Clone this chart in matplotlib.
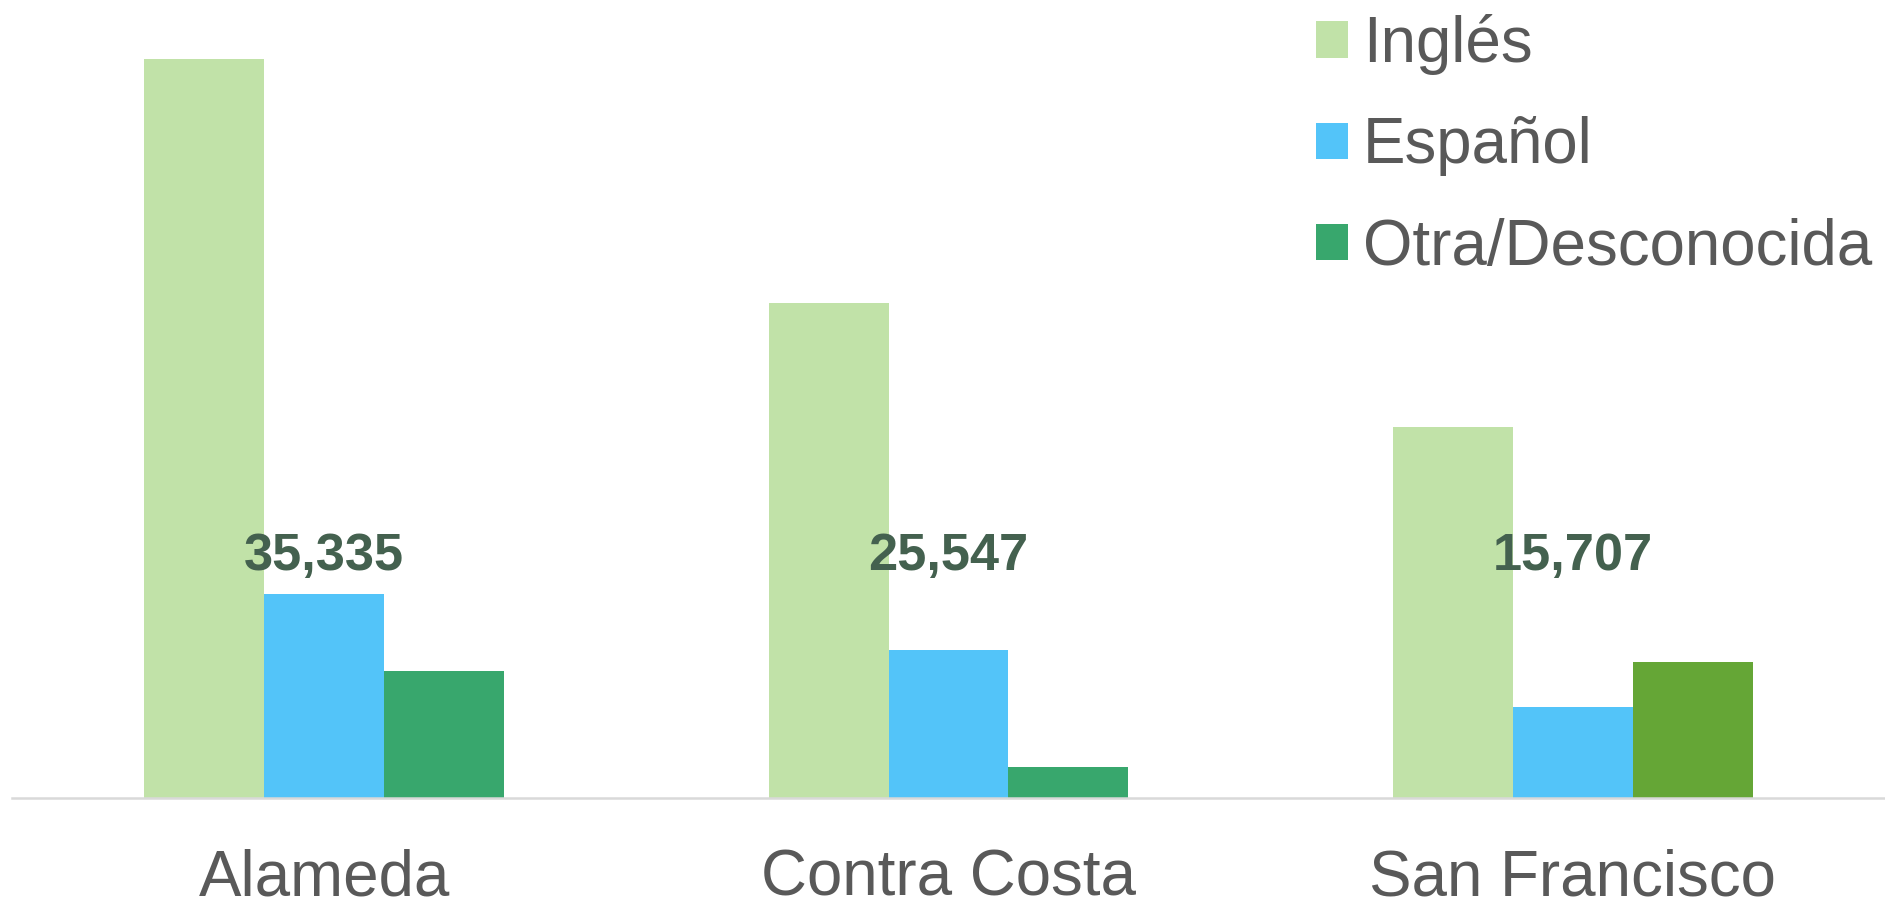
import matplotlib.pyplot as plt
import numpy as np

plt.rcParams['font.family'] = ['Liberation Sans', 'DejaVu Sans']

condados = ['Alameda', 'Contra Costa', 'San Francisco']
ingles = [128000, 85700, 64200]
espanol = [35335, 25547, 15707]
otra = [22000, 5400, 23500]
etiquetas = ['35,335', '25,547', '15,707']

c_ingles = '#C1E2A8'
c_espanol = '#53C4F9'
c_otra = ['#38A76D', '#38A76D', '#65A636']

fig = plt.figure(figsize=(18.85, 9.01), dpi=100)
ax = fig.add_axes([12 / 1885, 103 / 901, 1873 / 1885, 798 / 901])

x = np.arange(len(condados))
w = 0.192
ax.bar(x - w, ingles, w, color=c_ingles, label='Inglés')
ax.bar(x, espanol, w, color=c_espanol, label='Español')
ax.bar(x + w, otra, w, color=c_otra, label='Otra/Desconocida')

for xi, t in zip(x, etiquetas):
    ax.text(xi, 39500, t, ha='center', va='baseline', fontsize=37.7,
            fontweight='bold', color='#44614F')

ax.set_xlim(-0.5, 2.5)
ax.set_ylim(0, 138200)
ax.set_xticks(x)
ax.set_xticklabels(condados, fontsize=45.8, color='#595959')
ax.tick_params(axis='x', length=0, pad=36)
ax.set_yticks([])
for s in ['top', 'left', 'right']:
    ax.spines[s].set_visible(False)
ax.spines['bottom'].set_color('#D9D9D9')
ax.spines['bottom'].set_linewidth(1.8)

leg = ax.legend(loc='upper left', bbox_to_anchor=(1316 / 1885, 1 - 14 / 901),
                bbox_transform=fig.transFigure, frameon=False,
                fontsize=45.8, handlelength=0.5, handleheight=0.5,
                handletextpad=0.24, labelspacing=0.65, borderaxespad=0,
                borderpad=0.0)
for t in leg.get_texts():
    t.set_color('#595959')

fig.savefig('out.png', dpi=100)
